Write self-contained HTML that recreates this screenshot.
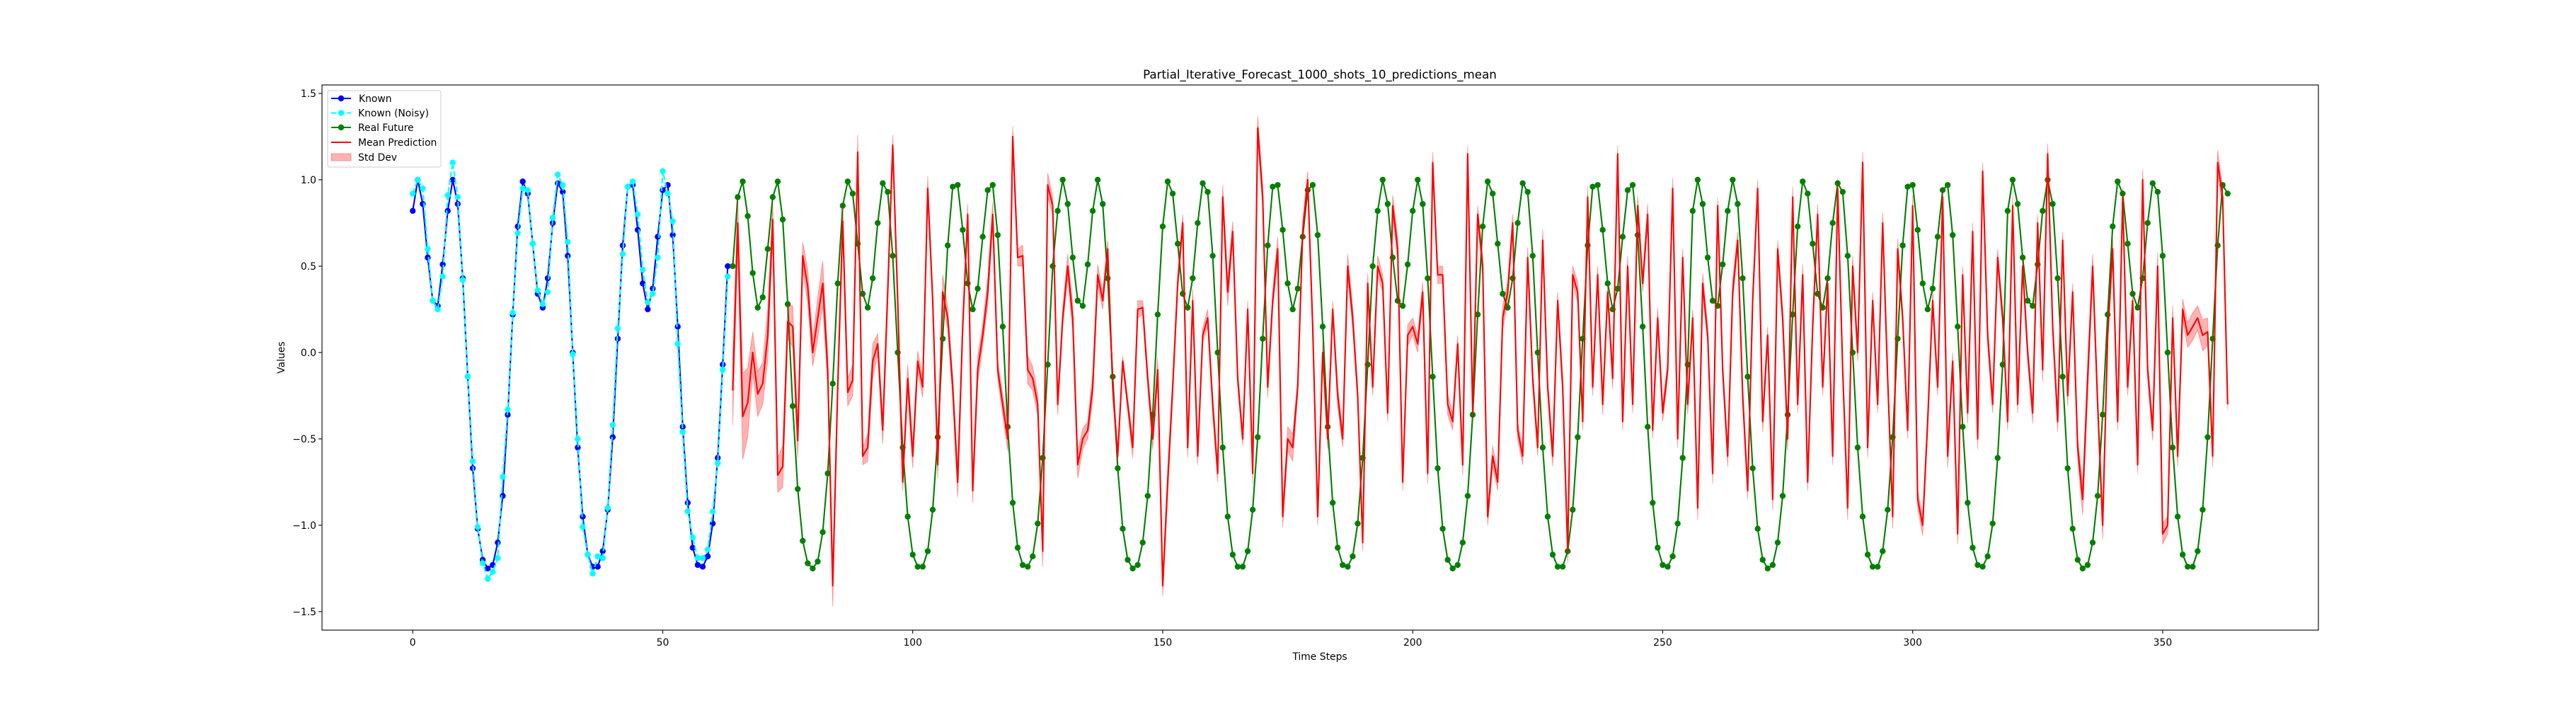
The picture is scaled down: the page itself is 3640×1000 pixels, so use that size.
<!DOCTYPE html>
<html><head><meta charset="utf-8">
<style>
html,body{margin:0;padding:0;background:#fff;}
svg{display:block;font-family:"DejaVu Sans","Liberation Sans",sans-serif;}
</style></head>
<body>
<svg id="chart" width="3640" height="1000" viewBox="0 0 3640 1000" xmlns="http://www.w3.org/2000/svg">
<rect x="0" y="0" width="3640" height="1000" fill="#fff"/>
<defs><clipPath id="clip"><rect x="455" y="120" width="2821" height="770"/></clipPath></defs>
<g id="plot" clip-path="url(#clip)"></g>
<g id="axes"></g>
<text x="1865" y="111" text-anchor="middle" font-size="16.7">Partial_Iterative_Forecast_1000_shots_10_predictions_mean</text>
<text x="1865" y="932" text-anchor="middle" font-size="13.9">Time Steps</text>
<text x="402" y="505" text-anchor="middle" font-size="13.9" transform="rotate(-90 402 505)">Values</text>
<g id="legend">
<rect x="463" y="128" width="160" height="108" rx="3" fill="#fff" fill-opacity="0.8" stroke="#ccc" stroke-width="1"/>
<g><line x1="468" y1="139" x2="496" y2="139" stroke="#0000ff" stroke-width="2.1"/><circle cx="482" cy="139" r="4.2" fill="#0000ff"/><text x="507" y="144" font-size="13.9">Known</text></g>
<g><line x1="468" y1="159.5" x2="496" y2="159.5" stroke="#00ffff" stroke-width="2.1" stroke-dasharray="7.7,3.3"/><circle cx="482" cy="159.5" r="4.2" fill="#00ffff"/><text x="506" y="164.5" font-size="13.9">Known (Noisy)</text></g>
<g><line x1="468" y1="180" x2="496" y2="180" stroke="#008000" stroke-width="2.1"/><circle cx="482" cy="180" r="4.2" fill="#008000"/><text x="506" y="185" font-size="13.9">Real Future</text></g>
<g><line x1="468" y1="201" x2="496" y2="201" stroke="#ff0000" stroke-width="2.1"/><text x="506" y="206" font-size="13.9">Mean Prediction</text></g>
<g><rect x="468" y="217" width="28" height="10" fill="#ff0000" fill-opacity="0.3" stroke="#ff0000" stroke-opacity="0.3"/><text x="506" y="227" font-size="13.9">Std Dev</text></g>
</g>
</svg>
<script>
const xTicks = [0, 50, 100, 150, 200, 250, 300, 350];
const yTicks = [-1.5, -1.0, -0.5, 0.0, 0.5, 1.0, 1.5];
const yTickLabels = ["\u22121.5", "\u22121.0", "\u22120.5", "0.0", "0.5", "1.0", "1.5"];
const knownStart = 0;
const futureStart = 64;
const knownValues = [0.82,1.0,0.86,0.55,0.30,0.27,0.51,0.82,1.0,0.86,
0.43,-0.14,-0.67,-1.02,-1.20,-1.25,-1.23,-1.10,-0.83,-0.36,
0.22,0.73,0.99,0.92,0.63,0.34,0.26,0.43,0.75,0.98,
0.93,0.56,0.0,-0.55,-0.95,-1.17,-1.24,-1.24,-1.15,-0.91,
-0.49,0.08,0.62,0.96,0.97,0.71,0.40,0.25,0.37,0.67,
0.94,0.97,0.68,0.15,-0.43,-0.87,-1.13,-1.23,-1.24,-1.18,
-0.99,-0.61,-0.07,0.50];
const noisyValues = [0.92,1.0,0.95,0.60,0.30,0.25,0.44,0.91,1.10,0.90,
0.42,-0.14,-0.63,-1.01,-1.22,-1.31,-1.27,-1.19,-0.72,-0.33,
0.23,0.69,0.95,0.94,0.63,0.36,0.28,0.35,0.78,1.03,
0.97,0.64,-0.01,-0.50,-1.01,-1.17,-1.28,-1.18,-1.19,-0.90,
-0.42,0.14,0.57,0.96,0.99,0.80,0.48,0.29,0.34,0.55,
1.05,0.92,0.76,0.05,-0.46,-0.92,-1.07,-1.19,-1.19,-1.14,
-0.92,-0.64,-0.10,0.44];
const realFuture = [0.50,
0.90,0.99,0.79,0.46,0.26,0.32,0.60,0.90,0.99,0.77,
0.28,-0.31,-0.79,-1.09,-1.22,-1.25,-1.21,-1.04,-0.70,-0.18,
0.40,0.85,0.99,0.92,0.63,0.34,0.26,0.43,0.75,0.98,
0.93,0.56,0.0,-0.55,-0.95,-1.17,-1.24,-1.24,-1.15,-0.91,
-0.49,0.08,0.62,0.96,0.97,0.71,0.40,0.25,0.37,0.67,
0.94,0.97,0.68,0.15,-0.43,-0.87,-1.13,-1.23,-1.24,-1.18,
-0.99,-0.61,-0.07,0.50,
0.82,1.0,0.86,0.55,0.30,0.27,0.51,0.82,1.0,0.86,
0.43,-0.14,-0.67,-1.02,-1.20,-1.25,-1.23,-1.10,-0.83,-0.36,
0.22,0.73,0.99,0.92,0.63,0.34,0.26,0.43,0.75,0.98,
0.93,0.56,0.0,-0.55,-0.95,-1.17,-1.24,-1.24,-1.15,-0.91,
-0.49,0.08,0.62,0.96,0.97,0.71,0.40,0.25,0.37,0.67,
0.94,0.97,0.68,0.15,-0.43,-0.87,-1.13,-1.23,-1.24,-1.18,
-0.99,-0.61,-0.07,0.50,
0.82,1.0,0.86,0.55,0.30,0.27,0.51,0.82,1.0,0.86,
0.43,-0.14,-0.67,-1.02,-1.20,-1.25,-1.23,-1.10,-0.83,-0.36,
0.22,0.73,0.99,0.92,0.63,0.34,0.26,0.43,0.75,0.98,
0.93,0.56,0.0,-0.55,-0.95,-1.17,-1.24,-1.24,-1.15,-0.91,
-0.49,0.08,0.62,0.96,0.97,0.71,0.40,0.25,0.37,0.67,
0.94,0.97,0.68,0.15,-0.43,-0.87,-1.13,-1.23,-1.24,-1.18,
-0.99,-0.61,-0.07,
0.82,1.0,0.86,0.55,0.30,0.27,0.51,0.82,1.0,0.86,
0.43,-0.14,-0.67,-1.02,-1.20,-1.25,-1.23,-1.10,-0.83,-0.36,
0.22,0.73,0.99,0.92,0.63,0.34,0.26,0.43,0.75,0.98,
0.93,0.56,0.0,-0.55,-0.95,-1.17,-1.24,-1.24,-1.15,-0.91,
-0.49,0.08,0.62,0.96,0.97,0.71,0.40,0.25,0.37,0.67,
0.94,0.97,0.68,0.15,-0.43,-0.87,-1.13,-1.23,-1.24,-1.18,
-0.99,-0.61,-0.07,
0.82,1.0,0.86,0.55,0.30,0.27,0.51,0.82,1.0,0.86,
0.43,-0.14,-0.67,-1.02,-1.20,-1.25,-1.23,-1.10,-0.83,-0.36,
0.22,0.73,0.99,0.92,0.63,0.34,0.26,0.43,0.75,0.98,
0.93,0.56,0.0,-0.55,-0.95,-1.17,-1.24,-1.24,-1.15,-0.91,
-0.49,0.08,0.62,0.97,0.92];
const meanPrediction = [-0.22,0.75,-0.37,-0.29,0.0,-0.24,-0.18,0.1,0.77,-0.71,
-0.66,0.18,0.15,-0.51,0.56,0.38,0.0,0.2,0.4,-0.1,
-1.35,-0.2,0.76,-0.23,-0.16,1.16,-0.6,-0.55,-0.05,0.05,
-0.45,0.35,1.2,0.3,-0.75,-0.15,-0.6,-0.05,-0.2,0.95,
0.3,-0.65,0.35,0.2,-0.2,-0.75,0.15,0.8,-0.8,-0.1,
0.1,0.35,0.8,-0.1,-0.3,-0.5,1.25,0.55,0.56,-0.1,
-0.15,-0.3,-1.15,0.97,0.85,-0.3,0.2,0.5,0.2,-0.65,
-0.5,-0.45,-0.2,0.45,0.3,0.6,-0.2,-0.6,-0.05,-0.3,
-0.55,0.25,0.26,-0.15,-0.5,-0.1,-1.35,-0.75,-0.2,0.4,
0.75,-0.55,0.3,-0.6,0.1,0.2,-0.3,-0.7,0.9,0.35,
0.7,-0.15,-0.5,0.25,-0.7,1.3,0.9,-0.2,0.3,0.6,
-0.95,-0.5,-0.55,-0.2,0.7,1.0,0.15,-0.95,0.0,-0.5,
0.25,-0.25,-0.5,0.5,0.2,-0.25,-1.1,0.4,-0.2,0.5,
0.4,-0.35,0.85,0.6,-0.75,0.1,0.15,0.05,0.35,-0.7,
1.1,0.45,0.45,-0.3,-0.4,0.05,-0.65,1.15,-0.35,0.8,
0.5,-0.95,-0.6,-0.75,0.2,0.35,0.75,-0.45,-0.6,0.55,
-0.15,-0.55,0.65,-0.2,-0.6,0.3,-0.2,-1.15,0.45,0.35,
-0.4,0.9,-0.2,0.45,-0.3,0.35,-0.15,1.15,-0.4,0.5,
-0.3,0.85,0.4,0.8,-0.45,0.2,-0.35,-0.1,0.95,-0.5,
0.55,-0.3,0.2,-0.9,0.4,0.1,-0.7,0.85,-0.1,-0.6,
0.35,0.65,-0.25,-0.8,0.3,0.95,-0.4,0.1,-0.85,0.6,
0.2,-0.5,0.9,-0.3,0.45,-0.75,0.15,0.8,-0.2,0.4,
-0.6,0.95,-0.1,-0.9,0.5,0.0,1.1,-0.55,0.3,-0.3,
0.75,-0.15,-0.95,0.6,0.2,-0.45,0.85,-0.85,-1.0,-0.4,
0.3,-0.2,0.9,-0.6,-0.05,-1.05,0.45,-0.35,0.7,-0.5,
1.05,0.1,-0.3,0.55,0.2,-0.4,0.85,-0.3,0.5,0.0,
-0.35,0.75,-0.1,1.15,0.15,-0.4,0.65,-0.25,0.35,-0.55,
-0.85,-0.15,0.5,-0.3,-1.0,0.1,0.6,-0.4,0.9,-0.2,
0.3,-0.65,1.0,-0.1,-0.45,0.5,-1.05,-1.0,0.2,-0.6,
0.25,0.1,0.15,0.2,0.1,0.12,-0.6,1.1,0.9,-0.3];
const stdDev = [0.2,0.15,0.25,0.2,0.12,0.13,0.12,0.15,0.1,0.1,
0.12,0.1,0.12,0.1,0.08,0.1,0.08,0.12,0.13,0.1,
0.12,0.08,0.1,0.08,0.09,0.1,0.05,0.08,0.1,0.06,
0.08,0.07,0.06,0.06,0.05,0.08,0.07,0.06,0.06,0.07,
0.05,0.08,0.1,0.06,0.07,0.09,0.06,0.06,0.07,0.08,
0.06,0.08,0.07,0.05,0.06,0.07,0.06,0.05,0.06,0.08,
0.07,0.06,0.09,0.07,0.05,0.06,0.05,0.07,0.08,0.08,
0.06,0.05,0.08,0.06,0.05,0.05,0.07,0.04,0.03,0.04,
0.06,0.05,0.04,0.05,0.06,0.07,0.06,0.08,0.06,0.05,
0.05,0.06,0.07,0.05,0.04,0.05,0.06,0.05,0.07,0.08,
0.06,0.05,0.04,0.05,0.06,0.07,0.07,0.06,0.05,0.07,
0.06,0.07,0.08,0.05,0.06,0.05,0.06,0.05,0.06,0.06,
0.05,0.06,0.05,0.07,0.06,0.05,0.05,0.06,0.05,0.06,
0.05,0.05,0.06,0.07,0.05,0.06,0.05,0.05,0.06,0.06,
0.06,0.05,0.05,0.06,0.05,0.05,0.06,0.05,0.05,0.05,
0.06,0.05,0.06,0.05,0.07,0.06,0.05,0.05,0.05,0.06,
0.05,0.05,0.06,0.05,0.06,0.05,0.06,0.07,0.05,0.06,
0.05,0.06,0.05,0.05,0.06,0.05,0.06,0.05,0.05,0.06,
0.05,0.06,0.05,0.06,0.05,0.06,0.05,0.05,0.06,0.05,
0.05,0.06,0.05,0.07,0.06,0.05,0.06,0.05,0.05,0.06,
0.06,0.05,0.06,0.05,0.06,0.05,0.06,0.05,0.06,0.05,
0.06,0.07,0.06,0.05,0.06,0.05,0.05,0.06,0.05,0.06,
0.05,0.06,0.05,0.07,0.06,0.05,0.06,0.06,0.05,0.05,
0.06,0.05,0.07,0.06,0.05,0.05,0.06,0.05,0.06,0.05,
0.06,0.05,0.06,0.07,0.05,0.06,0.05,0.06,0.05,0.06,
0.05,0.06,0.05,0.05,0.06,0.05,0.06,0.05,0.06,0.05,
0.06,0.05,0.07,0.06,0.05,0.06,0.05,0.06,0.05,0.06,
0.09,0.1,0.07,0.06,0.08,0.05,0.06,0.05,0.06,0.05,
0.06,0.05,0.06,0.05,0.06,0.08,0.06,0.05,0.07,0.06,
0.06,0.07,0.08,0.07,0.09,0.08,0.06,0.07,0.06,0.03];

const NS = "http://www.w3.org/2000/svg";
const L = 455, R = 3276, T = 120, B = 890;
const xMin = -18.15, xMax = 381.15, yMin = -1.607, yMax = 1.549;
function xs(v){ return L + (v - xMin) / (xMax - xMin) * (R - L); }
function ys(v){ return B - (v - yMin) / (yMax - yMin) * (B - T); }
function mk(tag, attrs, parent){
  const e = document.createElementNS(NS, tag);
  for (const k in attrs) e.setAttribute(k, attrs[k]);
  parent.appendChild(e);
  return e;
}
const plot = document.getElementById('plot');
const axes = document.getElementById('axes');

function pts(vals, start){ return vals.map((v,i)=> xs(start+i).toFixed(2)+","+ys(v).toFixed(2)).join(" "); }

let g = mk('g', {}, plot);


let pl = mk('polyline', {points: pts(knownValues, knownStart), fill:'none', stroke:'#0000ff', 'stroke-width':2.1, 'stroke-linejoin':'round'}, g);


knownValues.forEach((v,i)=>{
  const c = mk('circle', {cx: xs(knownStart+i), cy: ys(v), r: 4.2, fill:'#0000ff'}, g);
  
  
});
g = mk('g', {}, plot);


pl = mk('polyline', {points: pts(noisyValues, knownStart), fill:'none', stroke:'#00ffff', 'stroke-width':2.1, 'stroke-dasharray':'7.7,3.3'}, g);


noisyValues.forEach((v,i)=>{
  const c = mk('circle', {cx: xs(knownStart+i), cy: ys(v), r: 4.2, fill:'#00ffff'}, g);
  
  
});
g = mk('g', {}, plot);


pl = mk('polyline', {points: pts(realFuture, futureStart), fill:'none', stroke:'#008000', 'stroke-width':2.1, 'stroke-linejoin':'round'}, g);


realFuture.forEach((v,i)=>{
  const c = mk('circle', {cx: xs(futureStart+i), cy: ys(v), r: 4.2, fill:'#008000'}, g);
  
  
});
pl = mk('polyline', {points: pts(meanPrediction, futureStart), fill:'none', stroke:'#ff0000', 'stroke-width':2.1, 'stroke-linejoin':'round'}, plot);


const upper = meanPrediction.map((m,i)=> xs(futureStart+i).toFixed(2)+","+ys(m+stdDev[i]).toFixed(2));
const lower = meanPrediction.map((m,i)=> xs(futureStart+i).toFixed(2)+","+ys(m-stdDev[i]).toFixed(2)).reverse();
const band = mk('polygon', {points: upper.concat(lower).join(" "), fill:'#ff0000', 'fill-opacity':0.3, stroke:'#ff0000', 'stroke-opacity':0.3, 'stroke-width':1}, plot);



const frame = mk('rect', {x:L, y:T, width:R-L, height:B-T, fill:'none', stroke:'#000', 'stroke-width':1.1}, axes);


xTicks.forEach(t=>{
  const x = xs(t);
  const tk = mk('line', {x1:x, y1:B, x2:x, y2:B+4.9, stroke:'#000', 'stroke-width':1.1}, axes);
  
  
  const tl = mk('text', {x:x, y:B+22, 'text-anchor':'middle', 'font-size':13.9}, axes);
  tl.textContent = String(t);
  
  
});
yTicks.forEach((t,i)=>{
  const y = ys(t);
  const tk = mk('line', {x1:L-4.9, y1:y, x2:L, y2:y, stroke:'#000', 'stroke-width':1.1}, axes);
  
  
  const tl = mk('text', {x:L-8, y:y+5, 'text-anchor':'end', 'font-size':13.9}, axes);
  tl.textContent = yTickLabels[i];
  
  
});
</script>
</body></html>
